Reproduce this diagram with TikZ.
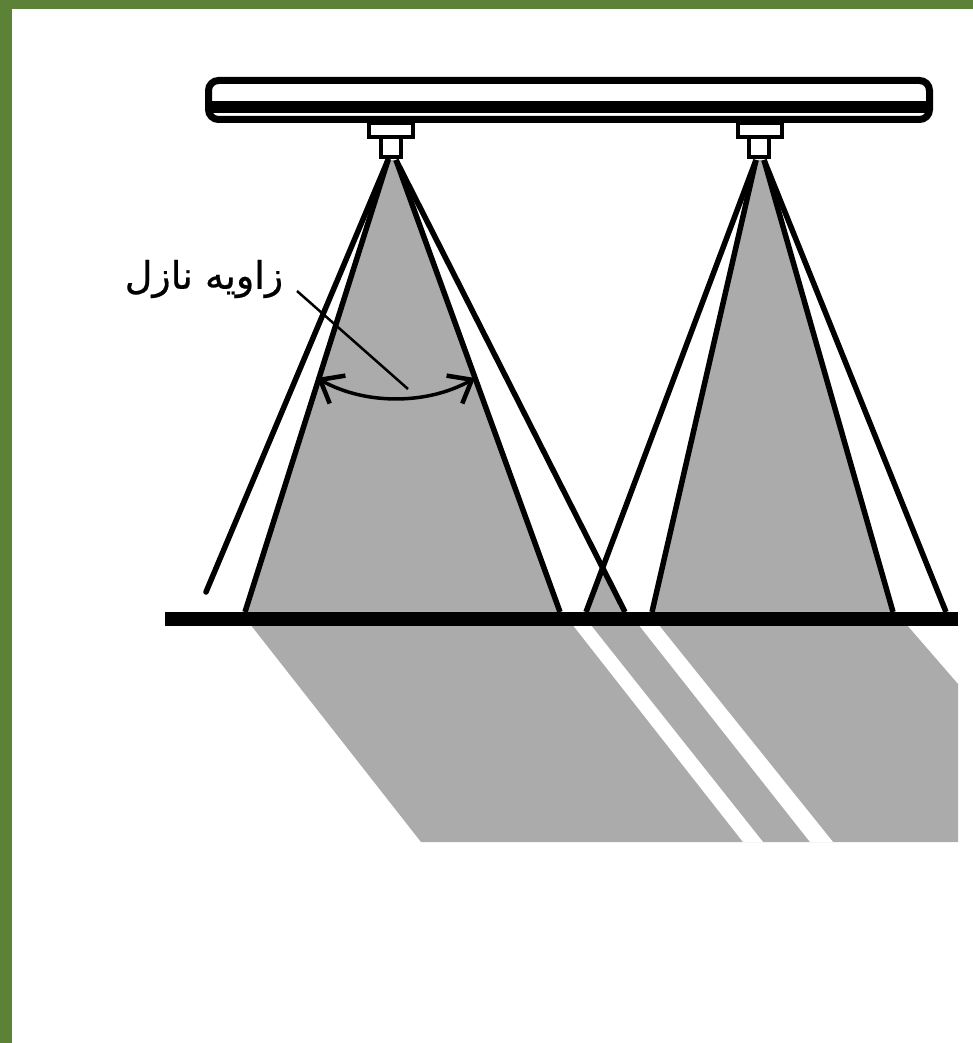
\documentclass[tikz,border=0pt]{standalone}
\usepackage{fontspec}
\usetikzlibrary{arrows.meta}
\TeXXeTstate=1
\newfontfamily\arabicfont[Script=Arabic,FakeBold=0.6]{DejaVu Sans}
\definecolor{frame}{HTML}{5B8237}
\definecolor{spray}{HTML}{ABABAB}
\tikzset{
  x=1pt,y=-1pt,
  conefill/.style={fill=spray,draw=none},
  edge/.style={draw=black,line width=5.5pt},
  pipeline/.style={draw=black,line width=7pt,rounded corners=10pt,fill=white},
  fitting/.style={draw=black,line width=4.5pt,fill=white},
  stripe/.style={fill=white,draw=none},
  leader/.style={draw=black,line width=2.5pt},
  anglearc/.style={draw=black,line width=3.5pt,{Straight Barb[length=20pt,width=32pt,line width=4.5pt]}-{Straight Barb[length=20pt,width=32pt,line width=4.5pt]}},
  label/.style={inner sep=0pt,font=\arabicfont\fontsize{38}{44}\selectfont}
}
\begin{document}
\begin{tikzpicture}
\useasboundingbox (0,0) rectangle (973,1043);
\fill[white] (0,0) rectangle (973,1043);
\fill[frame] (0,0) rectangle (973,9);
\fill[frame] (0,0) rectangle (12,1043);
% named points
\coordinate (a1l) at (388,160);
\coordinate (a1r) at (396,160);
\coordinate (a2l) at (756,160);
\coordinate (a2r) at (764,160);
\coordinate (l1i) at (245,612);
\coordinate (r1i) at (560,612);
\coordinate (l1o) at (206,592);
\coordinate (r1o) at (625,612);
\coordinate (l2i) at (652,612);
\coordinate (r2i) at (893,612);
\coordinate (l2o) at (586,612);
\coordinate (r2o) at (946,612);
\coordinate (cross) at (605.5,568);
% spray on the ground
\fill[spray] (250,624) -- (421,842) -- (958,842) -- (958,684) -- (906,624) -- cycle;
\fill[stripe] (572,624) -- (590,624) -- (763,842) -- (743,842) -- cycle;
\fill[stripe] (638,624) -- (658,624) -- (833,842) -- (810,842) -- cycle;
% spray cones
\fill[conefill] (a1l) -- (l1i) -- (r1i) -- (a1r) -- cycle;
\fill[conefill] (a2l) -- (l2i) -- (r2i) -- (a2r) -- cycle;
\fill[conefill] (cross) -- (l2o) -- (r1o) -- cycle;
\draw[edge,line cap=round] (a1l) -- (l1o);
\draw[edge] (a1l) -- (l1i);
\draw[edge] (a1r) -- (r1i);
\draw[edge] (a1r) -- (r1o);
\draw[edge] (a2l) -- (l2o);
\draw[edge] (a2l) -- (l2i);
\draw[edge] (a2r) -- (r2i);
\draw[edge] (a2r) -- (r2o);
% ground
\fill[black] (165,612) rectangle (958,626);
% pipe
\draw[pipeline] (208.5,80.5) rectangle (929.5,119.5);
\fill[black] (206,101) rectangle (932,113);
% nozzles
\draw[fitting] (369,123) rectangle (413,137);
\draw[fitting] (381,137) rectangle (401,157);
\draw[fitting] (738,123) rectangle (782,137);
\draw[fitting] (749,137) rectangle (769,157);
% angle mark
\draw[leader] (297,291) -- (408,389);
\draw[anglearc] (317,378) .. controls (365,405) and (427,405) .. (475,378);
\node[label] (title) at (204,279) {\beginR زاویه نازل\endR};
\end{tikzpicture}
\end{document}
